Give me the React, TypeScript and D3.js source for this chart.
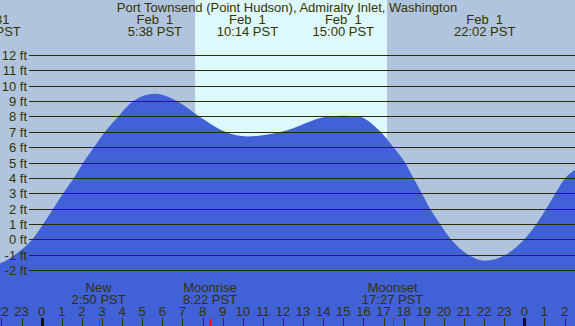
import React from 'react';
import * as d3 from 'd3';

// tide height readings (hours from midnight Feb 1, feet)
const tideHours = [-2.6, -2.07, -1.33, -0.46, 0.08, 0.58, 1.07, 1.61, 2.07, 2.6, 3.15, 3.81, 4.56, 5.63, 6.71, 7.84, 9.12, 10.23, 11.93, 14.25, 15.0, 15.74, 16.85, 17.49, 18.07, 18.48, 18.9, 19.31, 19.81, 20.35, 21.21, 22.03, 23.08, 24.0, 24.6, 25.1, 25.55, 26.05, 26.6];
const tideFeet = [-1.7, -1.56, -1, 0, 1, 2, 3, 4, 5, 6, 7, 8, 9, 9.47, 9, 8, 7, 6.7, 7, 8, 8.05, 8, 7, 6, 5, 4, 3, 2, 1, 0, -1, -1.39, -1, 0, 1, 2, 3, 4, 4.6];

// high / low tide labels along the top
const extremaHours = [-2.57, 5.63, 10.23, 15.0, 22.03];
const extremaDates = ['Jan 31', 'Feb  1', 'Feb  1', 'Feb  1', 'Feb  1'];
const extremaTimes = ['21:26 PST', '5:38 PST', '10:14 PST', '15:00 PST', '22:02 PST'];

// moon events along the bottom
const moonHours = [2.83, 8.37, 17.45];
const moonNames = ['New', 'Moonrise', 'Moonset'];
const moonTimes = ['2:50 PST', '8:22 PST', '17:27 PST'];

const sunrise = 7.63;
const sunset = 17.17;

const feetTicks = d3.range(-2, 13);
const hourTicks = d3.range(-2, 27);

const W = 575;
const H = 326;
const TEXT = '#333300';
const FONT = '"Liberation Sans", Arial, sans-serif';

export default function App() {
  const x = d3.scaleLinear().domain([0, 24]).range([41.7, 524.3]);
  const y = d3.scaleLinear().domain([-2, 12]).range([270, 55]);

  const pts = tideHours.map((h, i) => [h, tideFeet[i]] as [number, number]);
  const area = d3.area<[number, number]>()
    .x(d => x(d[0]))
    .y0(H)
    .y1(d => y(d[1]))
    .curve(d3.curveMonotoneX);

  const pre = { whiteSpace: 'pre' as const };

  return (
    <svg width={W} height={H} style={{ position: 'absolute', left: 0, top: 0 }}
      fontFamily={FONT} fontSize={13}>
      <rect x={0} y={0} width={W} height={H} fill="#b0c4de" />
      <rect x={x(sunrise)} y={0} width={x(sunset) - x(sunrise)} height={H} fill="#ddf8ff" />
      <path d={area(pts) || ''} fill="#4161d6" />

      {feetTicks.map(v => {
        const yy = Math.round(y(v)) + 0.5;
        return (
          <g key={v}>
            <line x1={29} x2={W} y1={yy} y2={yy} stroke="#2b2b00" strokeWidth={1} />
            <text x={27} y={yy + 4.5} textAnchor="end" fill={TEXT}>{v} ft</text>
          </g>
        );
      })}

      <text x={287} y={12} textAnchor="middle" fill={TEXT}>
        Port Townsend (Point Hudson), Admiralty Inlet, Washington
      </text>
      {extremaHours.map((h, i) => (
        <g key={i}>
          <text x={x(h)} y={24} textAnchor="middle" fill={TEXT} xmlSpace="preserve" style={pre}>{extremaDates[i]}</text>
          <text x={x(h)} y={36} textAnchor="middle" fill={TEXT}>{extremaTimes[i]}</text>
        </g>
      ))}

      {moonHours.map((h, i) => (
        <g key={i}>
          <text x={x(h)} y={292} textAnchor="middle" fill={TEXT}>{moonNames[i]}</text>
          <text x={x(h)} y={304} textAnchor="middle" fill={TEXT}>{moonTimes[i]}</text>
          <line x1={Math.round(x(h)) + 0.5} x2={Math.round(x(h)) + 0.5} y1={318} y2={H} stroke="red" />
        </g>
      ))}

      {hourTicks.map(h => {
        const xx = Math.round(x(h)) + 0.5;
        const midnight = h % 24 === 0;
        return (
          <g key={h}>
            <text x={x(h)} y={316} textAnchor="middle" fill={TEXT}>{((h % 24) + 24) % 24}</text>
            <line x1={xx} x2={xx} y1={318} y2={H} stroke={midnight ? '#111' : TEXT}
              strokeWidth={midnight ? 3 : 1} />
          </g>
        );
      })}
    </svg>
  );
}
